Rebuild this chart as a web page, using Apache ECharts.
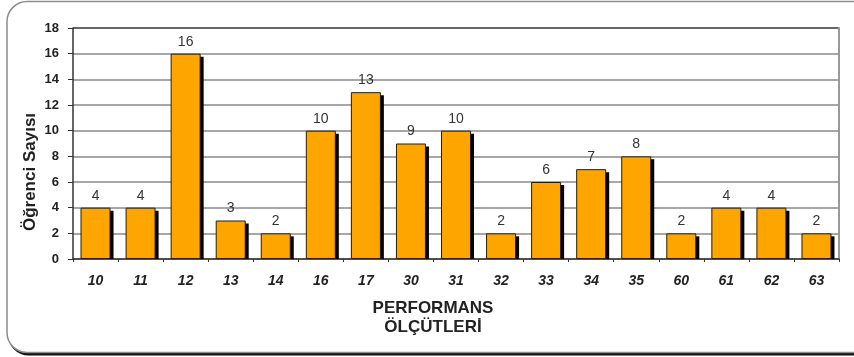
<!DOCTYPE html>
<html>
<head>
<meta charset="utf-8">
<script src="https://cdn.jsdelivr.net/npm/echarts@6/dist/echarts.min.js"></script>
<style>
  html, body { margin: 0; padding: 0; background: #fff; }
  #chart { width: 854px; height: 357px; }
</style>
</head>
<body>
<div id="chart"></div>
<script>
// Performance criteria codes and number of students per criterion
const criteria = ['10', '11', '12', '13', '14', '16', '17', '30', '31', '32', '33', '34', '35', '60', '61', '62', '63'];
const studentCounts = [4, 4, 16, 3, 2, 10, 13, 9, 10, 2, 6, 7, 8, 2, 4, 4, 2];
const yTicks = [0, 2, 4, 6, 8, 10, 12, 14, 16, 18];

const FONT = '"Liberation Sans", Arial, sans-serif';
const BAR_W = 30;

const chart = echarts.init(document.getElementById('chart'), null, { renderer: 'canvas' });

// grid lines: grey, the top (max) line dark
const splitColors = yTicks.map((v, i) => (i === yTicks.length - 1 ? '#333' : '#8a8a8a'));

chart.setOption({
  animation: false,
  backgroundColor: '#fff',
  graphic: [
    // rounded frame with a dark drop edge
    { type: 'rect', z: -20, shape: { x: 8.5, y: 3.5, width: 870, height: 352, r: 20 }, style: { fill: '#111' } },
    { type: 'rect', z: -19, shape: { x: 7, y: 1.5, width: 870, height: 351, r: 20 }, style: { fill: '#fff', stroke: '#8c8c8c', lineWidth: 1.5 } },
    {
      type: 'text', x: 30, y: 172, rotation: Math.PI / 2,
      style: { text: 'Öğrenci Sayısı', font: 'bold 17px ' + FONT, fill: '#222', textAlign: 'center', textVerticalAlign: 'middle' }
    },
    {
      type: 'text', x: 433, y: 308,
      style: { text: 'PERFORMANS', font: 'bold 17px ' + FONT, fill: '#222', textAlign: 'center', textVerticalAlign: 'middle' }
    },
    {
      type: 'text', x: 433, y: 327,
      style: { text: 'ÖLÇÜTLERİ', font: 'bold 17px ' + FONT, fill: '#222', textAlign: 'center', textVerticalAlign: 'middle' }
    }
  ],
  grid: { left: 73, right: 15, top: 28, bottom: 98, containLabel: false },
  xAxis: {
    type: 'category',
    data: criteria,
    boundaryGap: true,
    axisLine: { show: true, lineStyle: { color: '#333', width: 1.5 } },
    axisTick: { show: true, length: 3, lineStyle: { color: '#333' } },
    axisLabel: {
      margin: 15,
      fontFamily: FONT, fontSize: 14, fontWeight: 'bold', fontStyle: 'italic', color: '#222'
    },
    splitLine: { show: false }
  },
  yAxis: [
    {
      type: 'value',
      min: 0, max: 18, interval: 2,
      axisLine: { show: true, lineStyle: { color: '#333', width: 1.5 } },
      axisTick: { show: true, length: 5, lineStyle: { color: '#333' } },
      axisLabel: { margin: 14, fontFamily: FONT, fontSize: 13, fontWeight: 'bold', color: '#222' },
      splitLine: { show: true, lineStyle: { color: splitColors, width: 1.5 } }
    },
    {
      // right edge of the plot area
      type: 'value', position: 'right',
      min: 0, max: 18, interval: 2,
      axisLine: { show: true, lineStyle: { color: '#999', width: 2 } },
      axisTick: { show: false }, axisLabel: { show: false }, splitLine: { show: false }
    }
  ],
  series: [
    {
      // dark offset block behind each bar
      type: 'custom',
      z: 1,
      silent: true,
      data: studentCounts.map((v, i) => [i, v]),
      renderItem: function (params, api) {
        const top = api.coord([api.value(0), api.value(1)]);
        const base = api.coord([api.value(0), 0]);
        return {
          type: 'rect',
          shape: { x: top[0] - BAR_W / 2 + 3, y: top[1] + 3, width: BAR_W, height: base[1] - top[1] - 3 },
          style: { fill: '#000' }
        };
      }
    },
    {
      type: 'bar',
      z: 2,
      data: studentCounts,
      barWidth: BAR_W,
      itemStyle: { color: '#FFA500', borderColor: '#2a1e00', borderWidth: 1 },
      label: {
        show: true, position: 'top', distance: 5,
        fontFamily: FONT, fontSize: 14, color: '#333'
      }
    }
  ]
});
</script>
</body>
</html>
